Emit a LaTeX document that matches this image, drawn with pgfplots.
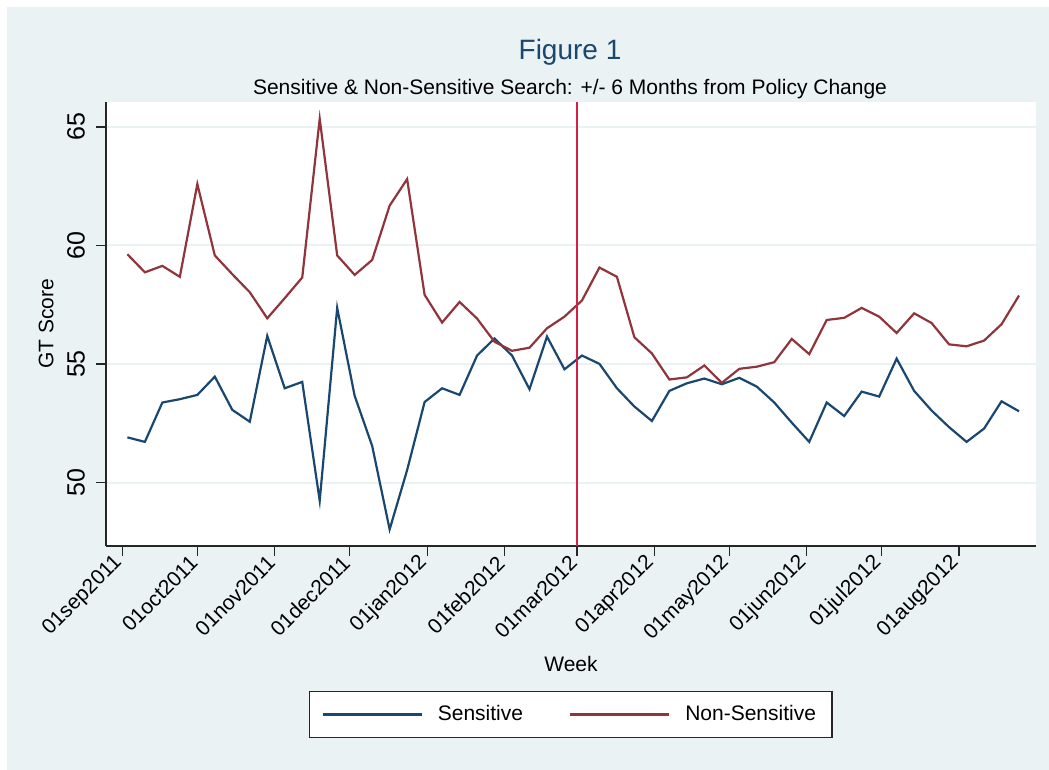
\documentclass[border=0pt]{standalone}
\usepackage{fontspec}
\setmainfont{Liberation Sans}
\usepackage{pgfplots}
\pgfplotsset{compat=1.18}
\usepackage{pgfplotstable}

\definecolor{stbg}{RGB}{234,242,243}
\definecolor{stnavy}{RGB}{26,71,111}
\definecolor{stmaroon}{RGB}{144,53,59}
\definecolor{polred}{RGB}{212,32,72}

% day = days since 01sep2011; weekly Google Trends scores
\pgfplotstableread{
day sens  nonsens
2   51.91 59.63
9   51.72 58.87
16  53.38 59.14
23  53.52 58.68
30  53.70 62.59
37  54.47 59.58
44  53.07 58.79
51  52.57 58.03
58  56.19 56.93
65  53.98 57.78
72  54.25 58.65
79  49.24 65.34
86  57.37 59.58
93  53.66 58.76
100 51.55 59.39
107 48.03 61.68
114 50.53 62.80
121 53.40 57.92
128 53.98 56.75
135 53.70 57.62
142 55.36 56.92
149 56.08 55.94
156 55.36 55.56
163 53.94 55.69
170 56.16 56.51
177 54.78 57.00
184 55.36 57.68
191 55.01 59.07
198 53.98 58.68
205 53.21 56.13
212 52.60 55.45
219 53.87 54.35
226 54.19 54.44
233 54.39 54.94
240 54.15 54.21
247 54.42 54.80
254 54.05 54.89
261 53.38 55.08
268 52.53 56.06
275 51.72 55.42
282 53.38 56.86
289 52.81 56.95
296 53.84 57.37
303 53.63 57.00
310 55.23 56.31
317 53.87 57.14
324 53.04 56.73
331 52.34 55.83
338 51.72 55.75
345 52.28 55.99
352 53.43 56.68
359 53.01 57.89
}\gtdata

\begin{document}
\begin{tikzpicture}
% page and graph region
\fill[white] (-53pt,-112pt) rectangle (471.5pt,273pt);
\fill[stbg] (-49.5pt,-112pt) rectangle (471.5pt,269.5pt);
\begin{axis}[
  at={(0,0)}, anchor=south west,
  scale only axis, width=465pt, height=222pt,
  xmin=-6.57, xmax=365.8, ymin=47.33, ymax=66.05,
  axis background/.style={fill=white},
  axis x line*=bottom, axis y line*=left,
  axis line style={black!85, line width=0.6pt, -},
  xtick={0,30,61,91,122,153,182,213,243,274,304,335},
  xticklabels={01sep2011,01oct2011,01nov2011,01dec2011,01jan2012,01feb2012,01mar2012,01apr2012,01may2012,01jun2012,01jul2012,01aug2012},
  ytick={50,55,60,65},
  tick align=outside, major tick length=5pt,
  tick style={black!85, line width=0.6pt},
  ymajorgrids, grid style={stbg, line width=1pt},
  xticklabel style={rotate=45, anchor=east, xshift=1pt, font=\fontsize{10.5}{12}\selectfont},
  yticklabel style={rotate=90, anchor=south, font=\fontsize{12.5}{15}\selectfont},
  yticklabel shift=2pt,
  /pgf/number format/assume math mode=true,
  xlabel={Week}, ylabel={GT Score},
  every axis x label/.style={at={(axis description cs:0.5,-0.2831)}, anchor=base, font=\fontsize{10.5}{12}\selectfont},
  every axis y label/.style={at={(axis description cs:-0.0567,0.5)}, rotate=90, anchor=base, font=\fontsize{10.5}{12}\selectfont},
  legend columns=2,
  legend image code/.code={\draw[#1] (0pt,0pt) -- (49.5pt,0pt);},
  legend style={at={(axis description cs:0.4998,-0.3795)}, anchor=center,
    draw=black!85, line width=0.6pt, fill=white,
    font=\fontsize{10.5}{12}\selectfont,
    inner xsep=6pt, inner ysep=5pt,
    /tikz/every odd column/.append style={column sep=5.5pt},
    /tikz/every even column/.append style={column sep=21pt}},
]
\addplot[stnavy, line width=1.1pt] table[x=day, y=sens] {\gtdata};
\addlegendentry{Sensitive}
\addplot[stmaroon, line width=1.1pt] table[x=day, y=nonsens] {\gtdata};
\addlegendentry{Non-Sensitive}
% policy change, 01mar2012
\addplot[polred, line width=1.1pt, forget plot] coordinates {(182,47.33) (182,66.05)};
\end{axis}
\node[anchor=base, text=stnavy, font=\fontsize{14}{17}\selectfont] at (232pt,243pt) {Figure 1};
\node[anchor=base, font=\fontsize{10.5}{12.6}\selectfont] at (232pt,225.75pt) {Sensitive \& Non-Sensitive Search: +/- 6 Months from Policy Change};
\pgfresetboundingbox
\useasboundingbox (-53pt,-112pt) rectangle (471.5pt,273pt);
\end{tikzpicture}
\end{document}
